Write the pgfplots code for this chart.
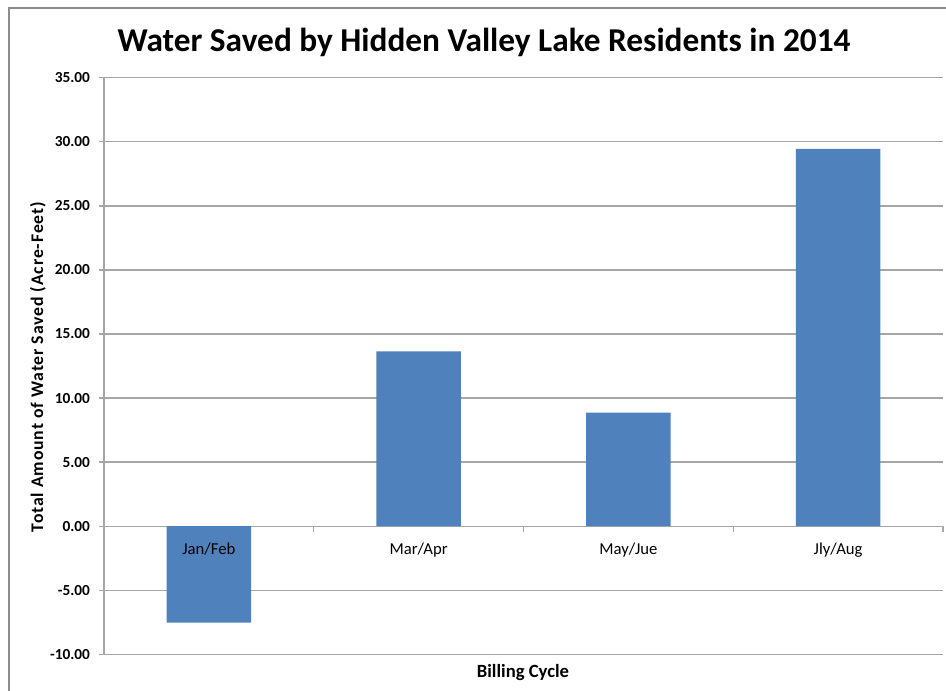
\documentclass[border=0pt]{standalone}
\usepackage{pgfplots}
\pgfplotsset{compat=1.18}
\usepackage{fontspec}
\setmainfont{Carlito}
\definecolor{barblue}{HTML}{4F81BD}
\definecolor{gridgrey}{HTML}{A6A6A6}
\definecolor{framegrey}{HTML}{8C8C8C}
\pgfplotsset{
  myframe/.style={
    at={(78pt,27.5pt)}, anchor=south west,
    scale only axis, width=629.25pt, height=432.45pt,
    ymin=-10, ymax=35, xmin=-0.5, xmax=3.5,
  },
}
\begin{document}
\begin{tikzpicture}
\useasboundingbox (0,0) rectangle (709.5pt,518.25pt);
\draw[framegrey, line width=0.9pt] (6.75pt,0) -- (6.75pt,512.25pt) -- (709.5pt,512.25pt);
\begin{axis}[
  myframe,
  ytick={-10,-5,...,35},
  axis x line=middle, axis y line=left,
  axis line style={gridgrey, line width=1pt, -},
  ymajorgrids, grid style={gridgrey, line width=1pt},
  xtick={0.5,1.5,2.5,3.5},
  xticklabels={},
  major x tick style={gridgrey, line width=0.8pt},
  major y tick style={gridgrey, line width=1pt},
  tick align=outside, major tick length=4pt,
  yticklabel style={font=\bfseries\fontsize{11.5}{13}\selectfont, /pgf/number format/fixed, /pgf/number format/fixed zerofill, /pgf/number format/precision=2, xshift=-3pt},
  /pgf/number format/assume math mode=true,
  ybar, bar width=63.4pt,
]
\addplot[fill=barblue, draw=none] coordinates {(0,-7.52) (1,13.65) (2,8.87) (3,29.45)};
\end{axis}
\begin{axis}[
  myframe,
  hide y axis,
  axis x line=middle,
  axis line style={draw=none},
  xtick={0,1,2,3},
  xticklabels={Jan/Feb,Mar/Apr,May/Jue,Jly/Aug},
  major x tick style={draw=none},
  tick align=outside, major tick length=4pt,
  xticklabel style={font=\fontsize{12.5}{14}\selectfont, yshift=-5pt},
]
\end{axis}
\node[font=\bfseries\fontsize{25}{29}\selectfont, anchor=center] at (363pt,486.75pt) {Water Saved by Hidden Valley Lake Residents in 2014};
\node[font=\bfseries\fontsize{13.3}{15}\selectfont\addfontfeature{LetterSpace=5}, rotate=90, anchor=center] at (28.5pt,243pt) {Total Amount of Water Saved (Acre-Feet)};
\node[font=\bfseries\fontsize{14}{16}\selectfont, anchor=center] at (392.25pt,13.5pt) {Billing Cycle};
\end{tikzpicture}
\end{document}
